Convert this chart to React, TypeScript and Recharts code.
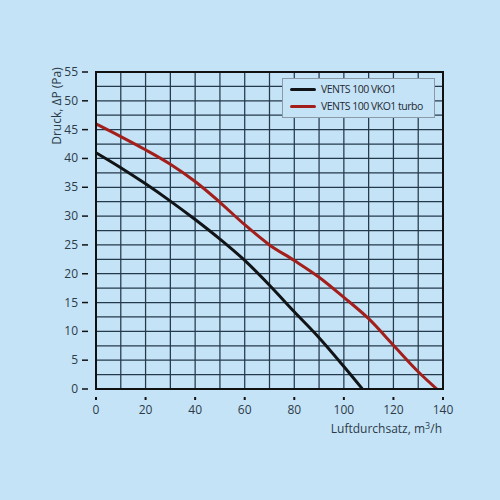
import React from 'react'
import {
  CartesianGrid,
  Label,
  Legend,
  Line,
  LineChart,
  ReferenceArea,
  XAxis,
  YAxis,
} from 'recharts'

const BG = '#c5e3f6'
const INK = '#2c3b4a'
const GRID = '#24394b'
const FONT = '"Open Sans", "DejaVu Sans", sans-serif'

const SERIES_NAMES = ['VENTS 100 VKO1', 'VENTS 100 VKO1 turbo']
const SERIES_COLORS = ['#111417', '#a31f1c']

// flow (m3/h) for each curve, with the pressure
const flowNormal = [0, 10, 20, 30, 40, 50, 60, 70, 80, 90, 100, 107.5]
const pressureNormal = [41, 38.4, 35.6, 32.6, 29.4, 26, 22.3, 18, 13.4, 8.9, 3.9, 0]

const flowTurbo = [0, 10, 20, 30, 40, 50, 60, 70, 80, 90, 100, 110, 120, 130, 137.5]
const pressureTurbo = [46, 43.8, 41.5, 39, 36, 32.4, 28.5, 25, 22.3, 19.4, 15.9, 12.2, 7.6, 3, 0]

const xTicks = [0, 10, 20, 30, 40, 50, 60, 70, 80, 90, 100, 110, 120, 130, 140]
const yTicks = [
  0, 2.5, 5, 7.5, 10, 12.5, 15, 17.5, 20, 22.5, 25, 27.5, 30, 32.5, 35, 37.5, 40,
  42.5, 45, 47.5, 50, 52.5, 55,
]

const normalData = flowNormal.map((q, i) => ({ q, p: pressureNormal[i] }))
const turboData = flowTurbo.map((q, i) => ({ q, p: pressureTurbo[i] }))

function XTick({ x, y, payload }: any) {
  if (payload.value % 20 !== 0) return null
  return (
    <g>
      <line x1={x} x2={x} y1={y} y2={y + 3} stroke="#111" strokeWidth={2} />
      <text x={x} y={y + 17} textAnchor="middle" fontSize={12} fill={INK} fontFamily={FONT}>
        {payload.value}
      </text>
    </g>
  )
}

function YTick({ x, y, payload }: any) {
  if (payload.value % 5 !== 0) return null
  return (
    <g>
      <line x1={x - 6} x2={x} y1={y} y2={y} stroke="#111" strokeWidth={1.5} />
      <text x={x - 10} y={y + 4} textAnchor="end" fontSize={12} fill={INK} fontFamily={FONT}>
        {payload.value}
      </text>
    </g>
  )
}

function LegendBox() {
  return (
    <div
      style={{
        border: '1px solid #8a9aa6',
        background: BG,
        padding: '2px 5px 2px 7px',
        fontFamily: FONT,
        fontSize: 10.5,
        letterSpacing: -0.5,
        whiteSpace: 'nowrap',
        color: '#1f2a35',
        lineHeight: '17px',
        width: 139,
      }}
    >
      {SERIES_NAMES.map((n, i) => (
        <div key={n} style={{ display: 'flex', alignItems: 'center' }}>
          <span
            style={{
              display: 'inline-block',
              width: 26,
              height: 3,
              borderRadius: 2,
              background: SERIES_COLORS[i],
              marginRight: 5,
              flexShrink: 0,
            }}
          />
          {n}
        </div>
      ))}
    </div>
  )
}

export default function App() {
  return (
    <div style={{ position: 'fixed', left: 0, top: 0, width: 500, height: 500, background: BG }}>
      <LineChart
        width={500}
        height={500}
        margin={{ top: 72, right: 57, bottom: 0, left: 0 }}
        style={{ fontFamily: FONT }}
      >
        <CartesianGrid stroke={GRID} strokeWidth={1.25} />
        <XAxis
          type="number"
          dataKey="q"
          domain={[0, 140]}
          ticks={xTicks}
          height={111}
          interval={0}
          tick={<XTick />}
          tickLine={false}
          axisLine={{ stroke: '#111', strokeWidth: 2 }}
        >
          <Label
            content={() => (
              <text x={442} y={433} textAnchor="end" fontSize={12} fill={INK} fontFamily={FONT}>
                Luftdurchsatz, m
                <tspan dy={-4} fontSize={9}>3</tspan>
                <tspan dy={4}>/h</tspan>
              </text>
            )}
          />
        </XAxis>
        <YAxis
          type="number"
          domain={[0, 55]}
          ticks={yTicks}
          width={96}
          interval={0}
          tick={<YTick />}
          tickLine={false}
          axisLine={{ stroke: '#111', strokeWidth: 2 }}
        >
          <Label
            content={() => (
              <text
                x={61}
                y={106}
                transform="rotate(-90 61 106)"
                textAnchor="middle"
                fontSize={12}
                fill={INK}
                fontFamily={FONT}
              >
                Druck, ΔP (Pa)
              </text>
            )}
          />
        </YAxis>
        <ReferenceArea x1={0} x2={140} y1={0} y2={55} fill="none" stroke="#111" strokeWidth={2} />
        <Line
          data={normalData}
          dataKey="p"
          name={SERIES_NAMES[0]}
          type="monotone"
          stroke={SERIES_COLORS[0]}
          strokeWidth={3}
          dot={false}
          isAnimationActive={false}
        />
        <Line
          data={turboData}
          dataKey="p"
          name={SERIES_NAMES[1]}
          type="monotone"
          stroke={SERIES_COLORS[1]}
          strokeWidth={3}
          dot={false}
          isAnimationActive={false}
        />
        <Legend
          layout="horizontal"
          verticalAlign="middle"
          content={() => <LegendBox />}
          wrapperStyle={{ left: 282, top: 78, width: 'auto' }}
        />
      </LineChart>
    </div>
  )
}
